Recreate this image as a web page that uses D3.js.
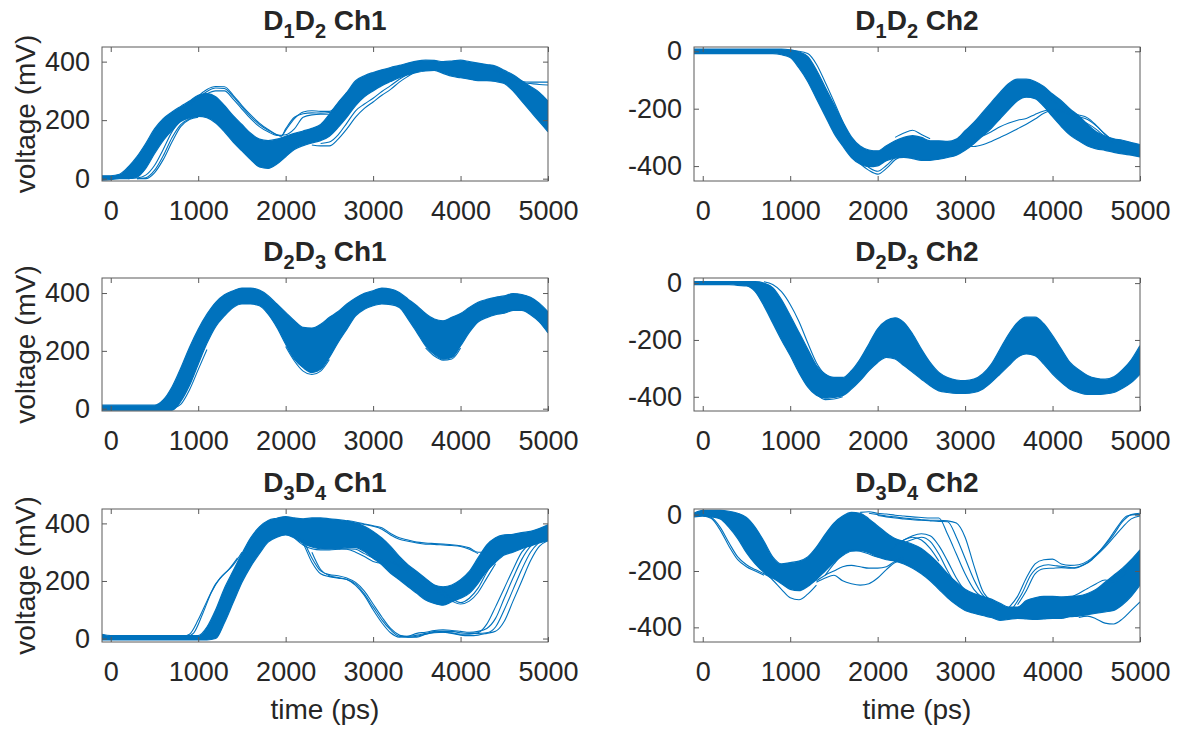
<!DOCTYPE html>
<html><head><meta charset="utf-8">
<script src="https://cdn.jsdelivr.net/npm/d3@7"></script>
<style>
html,body{margin:0;padding:0;background:#fff;}
svg{display:block;}
text{font-family:"Liberation Sans",Arial,Helvetica,sans-serif;fill:#262626;}
</style></head>
<body>
<svg id="chart" width="1182" height="733"></svg>
<script>
// ---------------- DATA ----------------
const timeGrid = [-100,0,100,200,300,400,500,600,700,800,
  900,1000,1100,1200,1300,1400,1500,1600,1700,1800,
  1900,2000,2100,2200,2300,2400,2500,2600,2700,2800,
  2900,3000,3100,3200,3300,3400,3500,3600,3700,3800,
  3900,4000,4100,4200,4300,4400,4500,4600,4700,4800,
  4900,5000];
const xTicks = [0,1000,2000,3000,4000,5000];
const yTicksPos = [0,200,400];
const yTicksNeg = [-400,-200,0];

// D1D2 Ch1 : upper / lower edge of the bundle of traces (mV)
const p1Upper = [10,10,15,40,75,120,170,205,228,247,
  265,285,291,280,250,215,185,155,135,130,
  135,145,155,163,172,185,220,260,295,335,
  352,363,372,380,387,395,402,405,404,400,
  402,405,400,395,390,385,370,355,335,315,
  295,265];
const p1Lower = [-5,-3,0,0,5,35,85,130,165,195,
  208,213,208,190,160,125,95,65,40,35,
  50,75,100,113,122,130,145,175,210,250,
  280,300,318,332,345,355,363,368,370,360,
  350,345,340,335,335,332,325,300,265,230,
  195,160];
const p1Extra = [
  [[900,250],[1000,282],[1100,305],[1200,315],[1300,314],[1400,285],[1500,250],[1600,218],[1700,190],[1800,168],[1900,150],[1950,145],[2000,165],[2100,205],[2200,228],[2300,232],[2400,230],[2500,230],[2600,255],[2700,295]],
  [[900,245],[1000,275],[1100,298],[1200,310],[1300,308],[1400,280],[1500,245],[1600,212],[1700,185],[1800,165],[1900,150],[1950,146],[2000,170],[2100,210],[2200,222],[2300,225],[2400,224],[2500,226],[2600,250],[2700,290]],
  [[1000,270],[1100,290],[1200,300],[1300,300],[1400,272],[1500,238],[1600,205],[1700,178],[1800,160],[1900,148],[2000,150],[2100,170],[2200,210],[2300,218],[2400,220],[2500,220],[2600,245]],
  [[200,0],[300,2],[400,12],[500,45],[600,100],[700,160],[800,198],[900,210],[1000,215]],
  [[300,0],[400,3],[500,28],[600,78],[700,140],[800,185],[900,205],[1000,212]],
  [[300,0],[400,0],[500,20],[600,65],[700,125],[800,178],[900,202],[1000,210]],
  [[2300,115],[2400,112],[2500,112],[2600,135],[2700,170],[2800,210],[2900,240],[3000,262],[3100,285],[3200,305],[3300,330],[3400,350],[3500,368]],
  [[2400,120],[2500,125],[2600,150],[2700,190],[2800,232],[2900,255],[3000,275],[3100,298],[3200,318],[3300,340],[3400,358]],
  [[4300,382],[4400,372],[4500,355],[4600,338],[4700,332],[4800,330],[4900,330],[5000,330]],
  [[4300,378],[4400,368],[4500,350],[4600,335],[4700,328],[4800,325],[4900,322],[5000,320]]
];

// D1D2 Ch2
const p2Upper = [8,8,8,8,8,8,8,8,8,8,
  8,5,-2,-18,-65,-125,-185,-245,-298,-330,
  -344,-347,-329,-312,-300,-294,-300,-312,-312,-314,
  -306,-277,-248,-213,-178,-143,-112,-97,-97,-105,
  -123,-149,-172,-201,-225,-255,-280,-295,-305,-310,
  -318,-325];
const p2Lower = [-8,-8,-8,-8,-8,-8,-8,-8,-8,-8,
  -12,-22,-58,-105,-165,-225,-285,-330,-370,-393,
  -402,-399,-381,-372,-370,-374,-380,-380,-376,-370,
  -362,-345,-322,-295,-268,-235,-202,-172,-160,-165,
  -192,-228,-262,-292,-312,-330,-340,-345,-352,-358,
  -362,-368];
const p2Extra = [
  [[1000,2],[1100,0],[1200,-8],[1300,-45],[1400,-108],[1500,-175],[1600,-245],[1700,-310],[1800,-342],[1900,-352]],
  [[1700,-362],[1800,-392],[1900,-415],[2000,-428],[2100,-408],[2200,-378],[2300,-362]],
  [[1800,-382],[1900,-405],[2000,-418],[2100,-398],[2200,-368]],
  [[2200,-300],[2300,-285],[2400,-275],[2500,-290],[2600,-305]],
  [[2900,-330],[3000,-328],[3100,-332],[3200,-326],[3300,-314],[3400,-300],[3500,-286],[3600,-270],[3700,-254],[3800,-236],[3900,-216],[4000,-206],[4100,-210],[4200,-222],[4300,-238],[4400,-252],[4500,-272],[4600,-298],[4700,-320]],
  [[3000,-312],[3100,-305],[3200,-295],[3300,-280],[3400,-263],[3500,-250],[3600,-240],[3700,-234],[3800,-220],[3900,-208],[4000,-202],[4100,-206],[4200,-218],[4300,-228],[4400,-238],[4500,-260],[4600,-288],[4700,-314]],
  [[3900,-150],[4000,-170],[4100,-195],[4200,-215],[4300,-222],[4400,-232],[4500,-258],[4600,-290],[4700,-312]]
];

// D2D3 Ch1
const p3Upper = [12,12,12,12,12,12,12,30,75,140,
  212,275,327,368,394,408,417,417,410,391,
  362,333,304,281,279,292,316,336,362,383,
  399,408,417,414,402,379,356,329,310,304,
  316,329,350,368,378,385,390,398,395,385,
  365,335];
const p3Lower = [-5,-5,-5,-5,-5,-5,-5,-5,-5,25,
  80,154,226,284,321,350,362,362,356,327,
  281,223,171,142,125,136,177,229,275,321,
  344,356,362,360,350,310,264,217,188,171,
  177,217,264,300,315,325,330,340,340,325,
  300,262];
const p3Extra = [
  [[2000,215],[2100,165],[2200,130],[2300,118],[2400,130],[2500,170]],
  [[3600,210],[3700,182],[3800,168],[3900,172],[4000,210]],
  [[700,0],[800,15],[900,65],[1000,135],[1100,205]]
];

// D2D3 Ch2
const p4Upper = [5,5,5,5,5,5,5,5,0,-16,
  -58,-114,-173,-232,-290,-320,-332,-332,-308,-267,
  -214,-161,-132,-122,-138,-179,-232,-279,-314,-332,
  -341,-343,-338,-320,-285,-232,-179,-138,-120,-120,
  -143,-185,-232,-279,-305,-325,-335,-338,-330,-305,
  -270,-220];
const p4Lower = [-5,-5,-5,-5,-5,-8,-10,-30,-80,-140,
  -200,-255,-315,-365,-395,-405,-402,-396,-373,-343,
  -308,-279,-261,-267,-290,-314,-338,-361,-379,-385,
  -388,-388,-385,-373,-349,-320,-290,-261,-249,-255,
  -285,-320,-349,-373,-385,-392,-392,-390,-385,-370,
  -350,-320];
const p4Extra = [
  [[700,5],[800,-5],[900,-30],[1000,-75],[1100,-135],[1200,-210],[1300,-280],[1400,-322],[1500,-336]],
  [[1300,-390],[1400,-410],[1500,-408],[1600,-400]]
];

// D3D4 Ch1
const p5Upper = [15,10,10,10,10,10,10,10,10,10,
  10,10,40,100,175,235,295,350,388,410,
  418,424,419,416,419,419,416,413,409,401,
  390,372,349,320,285,256,233,209,186,180,
  186,204,233,280,325,350,360,362,368,372,
  382,395];
const p5Lower = [-5,-5,-5,-5,-5,-5,-5,-5,-5,-5,
  -5,-5,-5,0,55,125,195,250,295,335,
  352,360,349,331,320,314,312,312,316,316,
  302,279,256,227,204,180,157,134,122,116,
  128,140,157,192,235,265,290,300,312,322,
  332,340];
const p5Extra = [
  [[800,5],[900,15],[1000,65],[1100,130],[1200,190],[1300,225],[1400,255],[1500,300]],
  [[850,3],[950,20],[1050,85],[1150,160],[1250,210],[1350,240],[1450,280]],
  [[2700,410],[2800,405],[2900,398],[3000,392],[3100,385],[3200,365],[3300,350],[3400,342],[3500,335],[3600,332],[3700,330],[3800,328],[3900,326],[4000,322],[4100,315],[4200,300],[4300,300]],
  [[2800,402],[2900,396],[3000,390],[3100,380],[3200,360],[3300,345],[3400,338],[3500,332],[3600,328],[3700,327],[3800,325],[3900,323],[4000,320],[4100,310],[4200,295]],
  [[2100,350],[2200,325],[2300,312],[2400,308],[2500,308],[2600,310],[2700,312],[2800,310],[2900,295],[3000,280],[3100,272],[3200,268],[3300,258],[3400,240],[3500,225],[3600,205],[3700,185],[3800,165],[3900,140],[4000,125],[4100,140],[4200,175],[4300,230],[4400,275],[4500,300]],
  [[2200,330],[2300,318],[2400,312],[2500,312],[2600,312],[2700,310],[2800,300],[2900,285],[3000,268],[3100,262],[3200,265],[3300,250],[3400,230],[3500,210],[3600,190],[3700,170],[3800,150],[3900,130],[4000,120],[4100,130],[4200,160],[4300,210],[4400,260]],
  [[2100,370],[2200,330],[2300,265],[2400,225],[2500,215],[2600,210],[2700,205],[2800,190],[2900,155],[3000,110],[3100,65],[3200,30],[3300,8],[3400,5],[3500,8],[3600,15],[3700,20],[3800,22],[3900,20],[4000,15],[4100,15],[4200,20],[4300,50],[4400,110],[4500,175],[4600,240],[4700,300],[4800,330],[4900,345]],
  [[2200,345],[2300,280],[2400,235],[2500,222],[2600,218],[2700,210],[2800,195],[2900,165],[3000,120],[3100,75],[3200,35],[3300,12],[3400,5],[3500,5],[3600,15],[3700,22],[3800,25],[3900,25],[4000,20],[4100,18],[4200,18],[4300,20],[4400,40],[4500,100],[4600,170],[4700,240],[4800,300],[4900,335]],
  [[2300,300],[2400,240],[2500,218],[2600,212],[2700,205],[2800,185],[2900,150],[3000,100],[3100,55],[3200,20],[3300,5],[3400,8],[3500,18],[3600,22],[3700,28],[3800,30],[3900,28],[4000,25],[4100,22],[4200,25],[4300,35],[4400,70],[4500,140],[4600,210],[4700,275],[4800,320],[4900,340]],
  [[3300,10],[3400,8],[3500,12],[3600,18],[3700,24],[3800,22],[3900,18],[4000,12],[4100,10],[4200,12],[4300,18],[4400,25],[4500,60],[4600,130],[4700,200],[4800,270],[4900,320],[5000,340]]
];

// D3D4 Ch2
const p6Upper = [5,15,15,15,12,5,-10,-45,-95,-150,
  -175,-170,-165,-150,-115,-70,-30,-5,8,5,
  -15,-40,-65,-85,-95,-105,-120,-145,-175,-210,
  -240,-265,-280,-290,-300,-315,-328,-328,-305,-295,
  -290,-290,-292,-290,-288,-280,-265,-240,-215,-190,
  -160,-125];
const p6Lower = [-8,-5,-8,-15,-45,-85,-135,-175,-205,-225,
  -245,-265,-270,-255,-230,-200,-170,-145,-130,-128,
  -135,-150,-160,-165,-175,-190,-210,-235,-265,-295,
  -320,-340,-350,-358,-365,-375,-372,-368,-370,-372,
  -370,-368,-368,-362,-360,-355,-350,-345,-340,-320,
  -290,-250];
const p6Extra = [
  [[0,-2],[100,-10],[200,-45],[300,-100],[400,-150],[500,-178],[600,-195],[700,-210],[800,-228]],
  [[0,-4],[100,-14],[200,-55],[300,-112],[400,-160],[500,-185],[600,-200],[700,-215]],
  [[700,-205],[800,-232],[900,-265],[1000,-295],[1100,-302],[1200,-282],[1300,-250]],
  [[1300,-235],[1400,-215],[1500,-200],[1600,-185],[1700,-180],[1800,-185],[1900,-190],[2000,-190],[2100,-185],[2200,-165],[2300,-150]],
  [[1300,-240],[1400,-225],[1500,-215],[1600,-235],[1700,-245],[1800,-250],[1900,-245],[2000,-225],[2100,-195],[2200,-170],[2300,-160]],
  [[1400,-215],[1500,-175],[1600,-140],[1700,-125],[1800,-130],[1900,-140],[2000,-150],[2100,-140],[2200,-110],[2300,-90],[2400,-80],[2500,-90],[2600,-120],[2700,-165]],
  [[1800,8],[1900,10],[2000,5],[2100,2],[2200,-2],[2300,-5],[2400,-8],[2500,-10],[2600,-12],[2700,-12],[2800,-70],[2900,-140],[3000,-210],[3100,-265],[3200,-295],[3300,-310]],
  [[1900,5],[2000,0],[2100,-5],[2200,-8],[2300,-12],[2400,-15],[2500,-18],[2600,-20],[2700,-20],[2800,-22],[2900,-30],[3000,-80],[3100,-180],[3200,-270],[3300,-305]],
  [[2000,-3],[2100,-8],[2200,-12],[2300,-15],[2400,-18],[2500,-20],[2600,-22],[2700,-24],[2800,-25],[2900,-80],[3000,-155],[3100,-230],[3200,-285],[3300,-310]],
  [[2200,-110],[2300,-90],[2400,-75],[2500,-68],[2600,-75],[2700,-110],[2800,-165],[2900,-225],[3000,-270],[3100,-295]],
  [[2300,-100],[2400,-88],[2500,-80],[2600,-95],[2700,-140],[2800,-200],[2900,-250],[3000,-285]],
  [[3500,-330],[3600,-290],[3700,-225],[3800,-175],[3900,-160],[4000,-158],[4100,-175],[4200,-180],[4300,-178],[4400,-165],[4500,-140],[4600,-110],[4700,-70],[4800,-25],[4900,0],[5000,5]],
  [[3550,-330],[3650,-280],[3750,-215],[3850,-185],[3950,-178],[4050,-182],[4150,-185],[4250,-190],[4350,-180],[4450,-160],[4550,-125],[4650,-85],[4750,-40],[4850,-5],[4950,0],[5000,0]],
  [[3600,-320],[3700,-270],[3800,-210],[3900,-192],[4000,-190],[4100,-188],[4200,-190],[4300,-185],[4400,-170],[4500,-145],[4600,-115],[4700,-80],[4800,-45],[4900,-15],[5000,-5]],
  [[4300,-365],[4400,-360],[4500,-370],[4600,-385],[4700,-388],[4800,-370],[4900,-340],[5000,-310]],
  [[4200,-295],[4300,-280],[4400,-262],[4500,-245],[4600,-232],[4700,-238],[4800,-220],[4900,-180],[5000,-140]]
];

const titleParts = [
  ["D","1","D","2"," Ch1"], ["D","1","D","2"," Ch2"],
  ["D","2","D","3"," Ch1"], ["D","2","D","3"," Ch2"],
  ["D","3","D","4"," Ch1"], ["D","3","D","4"," Ch2"]
];
const yLabelText = "voltage (mV)";
const xLabelText = "time (ps)";
const xDomain = [-100, 5000];
const yDomains = [[-8,450],[-452,15],[-8,452],[-450,18],[-12,450],[-452,20]];

// ---------------- LAYOUT ----------------
const colX = [[102,548],[694,1140]];
const rowY = [[47,181],[278,411],[509,642]];
const blue = "#0072BD";
const axisColor = "#262626";
const boxColor = "#5a5a5a";
const tickFont = 27;
const labelFont = 28;
const titleFont = 28;
const subFont = 20;
const fmt = d => String(d);   // plain hyphen-minus like the original

const svg = d3.select("#chart");
const defs = svg.append("defs");

const panels = [
  {upper:p1Upper, lower:p1Lower, extra:p1Extra, ticks:yTicksPos},
  {upper:p2Upper, lower:p2Lower, extra:p2Extra, ticks:yTicksNeg},
  {upper:p3Upper, lower:p3Lower, extra:p3Extra, ticks:yTicksPos},
  {upper:p4Upper, lower:p4Lower, extra:p4Extra, ticks:yTicksNeg},
  {upper:p5Upper, lower:p5Lower, extra:p5Extra, ticks:yTicksPos},
  {upper:p6Upper, lower:p6Lower, extra:p6Extra, ticks:yTicksNeg}
];

panels.forEach((p, i) => {
  const col = i % 2, row = Math.floor(i / 2);
  const [x0, x1] = colX[col];
  const [y0, y1] = rowY[row];
  const x = d3.scaleLinear().domain(xDomain).range([x0, x1]);
  const y = d3.scaleLinear().domain(yDomains[i]).range([y1, y0]);
  const g = svg.append("g");

  const clipId = "clip" + i;
  defs.append("clipPath").attr("id", clipId)
    .append("rect").attr("x", x0).attr("y", y0).attr("width", x1 - x0).attr("height", y1 - y0);

  const data = g.append("g").attr("clip-path", `url(#${clipId})`);
  const band = timeGrid.map((t, k) => ({t, hi: p.upper[k], lo: p.lower[k]}));
  const area = d3.area().curve(d3.curveMonotoneX)
    .x(d => x(d.t)).y0(d => y(d.lo)).y1(d => y(d.hi));
  data.append("path").datum(band).attr("d", area).attr("fill", blue);
  const lineHi = d3.line().curve(d3.curveMonotoneX).x(d => x(d.t)).y(d => y(d.hi));
  const lineLo = d3.line().curve(d3.curveMonotoneX).x(d => x(d.t)).y(d => y(d.lo));
  data.append("path").datum(band).attr("d", lineHi).attr("fill", "none").attr("stroke", blue).attr("stroke-width", 1.2);
  data.append("path").datum(band).attr("d", lineLo).attr("fill", "none").attr("stroke", blue).attr("stroke-width", 1.2);
  const line = d3.line().curve(d3.curveMonotoneX).x(d => x(d[0])).y(d => y(d[1]));
  data.selectAll("path.extra").data(p.extra).join("path").attr("class", "extra")
    .attr("d", line).attr("fill", "none").attr("stroke", blue).attr("stroke-width", 1.1);

  // axes (MATLAB-like: ticks inward on all four sides)
  const ax = (sel) => { sel.select(".domain").remove(); sel.selectAll("line").attr("stroke", boxColor); };
  g.append("g").attr("transform", `translate(0,${y1})`)
    .call(d3.axisBottom(x).tickValues(xTicks).tickSize(-5).tickPadding(20).tickFormat(fmt))
    .call(ax).selectAll("text").attr("font-size", tickFont).attr("fill", axisColor)
    .style("font-family", '"Liberation Sans", Arial, sans-serif');
  g.append("g").attr("transform", `translate(0,${y0})`)
    .call(d3.axisTop(x).tickValues(xTicks).tickSize(-5).tickFormat(""))
    .call(ax);
  g.append("g").attr("transform", `translate(${x0},0)`)
    .call(d3.axisLeft(y).tickValues(p.ticks).tickSize(-5).tickPadding(12).tickFormat(fmt))
    .call(ax).selectAll("text").attr("font-size", tickFont).attr("fill", axisColor)
    .style("font-family", '"Liberation Sans", Arial, sans-serif');
  g.append("g").attr("transform", `translate(${x1},0)`)
    .call(d3.axisRight(y).tickValues(p.ticks).tickSize(-5).tickFormat(""))
    .call(ax);
  g.append("rect").attr("x", x0).attr("y", y0).attr("width", x1 - x0).attr("height", y1 - y0)
    .attr("fill", "none").attr("stroke", boxColor).attr("stroke-width", 1);

  // title with subscripts
  const tp = titleParts[i];
  const tt = g.append("text").attr("x", (x0 + x1) / 2).attr("y", y0 - 17)
    .attr("text-anchor", "middle").attr("font-size", titleFont).attr("font-weight", "bold");
  tt.append("tspan").text(tp[0]);
  tt.append("tspan").attr("font-size", subFont).attr("dy", 8).text(tp[1]);
  tt.append("tspan").attr("dy", -8).text(tp[2]);
  tt.append("tspan").attr("font-size", subFont).attr("dy", 8).text(tp[3]);
  tt.append("tspan").attr("dy", -8).text(tp[4]);

  if (col === 0) {
    g.append("text").attr("transform", `translate(35,${(y0 + y1) / 2}) rotate(-90)`)
      .attr("text-anchor", "middle").attr("font-size", labelFont).text(yLabelText);
  }
  if (row === 2) {
    g.append("text").attr("x", (x0 + x1) / 2).attr("y", 719)
      .attr("text-anchor", "middle").attr("font-size", labelFont).text(xLabelText);
  }
});
</script>
</body></html>
